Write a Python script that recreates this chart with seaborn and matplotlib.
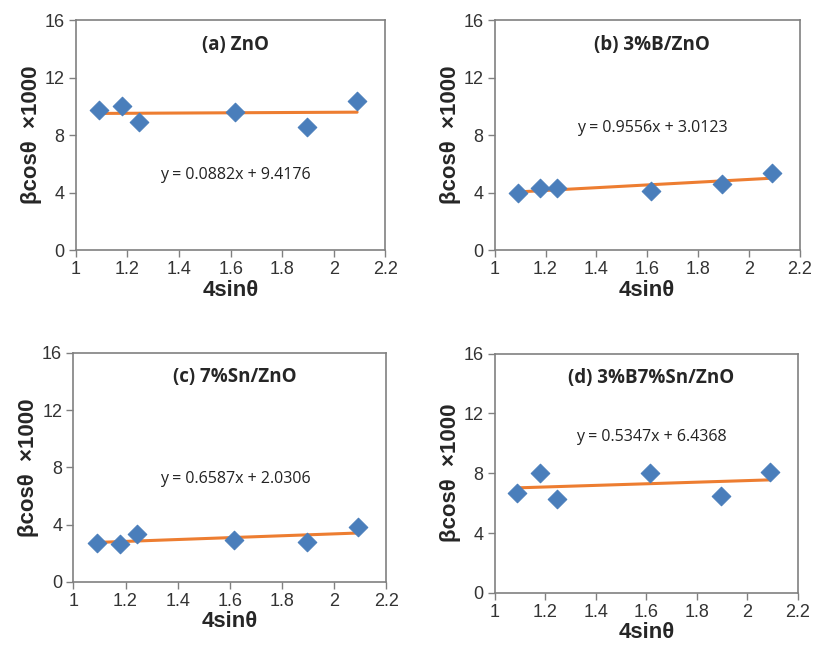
import numpy as np
import pandas as pd
import matplotlib
matplotlib.use("Agg")
import matplotlib.pyplot as plt
import seaborn as sns

# x positions (4 sin theta), shared by all four samples
sin_values = [1.09, 1.18, 1.245, 1.615, 1.895, 2.09]

# beta cos theta x 1000 for each sample
zno = [9.75, 10.0, 8.95, 9.6, 8.6, 10.4]
b_zno = [4.0, 4.3, 4.3, 4.15, 4.6, 5.35]
sn_zno = [2.7, 2.65, 3.35, 2.9, 2.75, 3.85]
bsn_zno = [6.7, 8.0, 6.3, 8.0, 6.45, 8.05]

titles = ["(a) ZnO", "(b) 3%B/ZnO", "(c) 7%Sn/ZnO", "(d) 3%B7%Sn/ZnO"]
slopes = [0.0882, 0.9556, 0.6587, 0.5347]
intercepts = [9.4176, 3.0123, 2.0306, 6.4368]

# text placement in data coordinates (title y, equation y)
title_y = [14.3, 14.3, 14.3, 14.4]
eq_y = [5.2, 8.5, 7.2, 10.4]

sns.set_style("white")
plt.rcParams["font.family"] = ["Liberation Sans", "DejaVu Sans"]

fig = plt.figure(figsize=(8.15, 6.5), dpi=100)
boxes = [
    [0.093, 0.615, 0.380, 0.354],
    [0.607, 0.615, 0.374, 0.354],
    [0.090, 0.105, 0.384, 0.352],
    [0.607, 0.088, 0.372, 0.368],
]
series = [zno, b_zno, sn_zno, bsn_zno]

for i in range(4):
    ax = fig.add_axes(boxes[i])
    df = pd.DataFrame({"x": sin_values, "y": series[i]})

    # trend line from the printed equation
    xs = np.array([min(sin_values), max(sin_values)])
    fit = pd.DataFrame({"x": xs, "y": slopes[i] * xs + intercepts[i]})
    sns.lineplot(data=fit, x="x", y="y", ax=ax, color="#ED7D31", linewidth=2.2, zorder=2)
    sns.scatterplot(data=df, x="x", y="y", ax=ax, marker="D", s=90,
                    color="#4A7EBB", edgecolor="#4A7EBB", zorder=3)

    ax.set_xlim(1, 2.2)
    ax.set_ylim(0, 16)
    ax.set_xticks([1, 1.2, 1.4, 1.6, 1.8, 2, 2.2])
    ax.set_xticklabels(["1", "1.2", "1.4", "1.6", "1.8", "2", "2.2"])
    ax.set_yticks([0, 4, 8, 12, 16])
    ax.tick_params(axis="both", labelsize=13, direction="out", length=5,
                   width=1, color="#808080", labelcolor="#333333",
                   bottom=True, left=True, pad=3)
    for sp in ax.spines.values():
        sp.set_color("#808080")
        sp.set_linewidth(1.2)

    ax.set_xlabel("4sinθ", fontsize=16, fontweight="bold", labelpad=1)
    ax.set_ylabel("βcosθ  ×1000", fontsize=16, fontweight="bold", labelpad=2)

    ax.text(1.62, title_y[i], titles[i], ha="center", va="center",
            fontsize=13.5, fontweight="bold", family=["Open Sans", "DejaVu Sans"])
    eq = "y = %.4fx + %.4f" % (slopes[i], intercepts[i])
    ax.text(1.62, eq_y[i], eq, ha="center", va="center", fontsize=11.5,
            color="#222222", family=["Open Sans", "DejaVu Sans"])

fig.savefig("out.png", dpi=100)
plt.close()
